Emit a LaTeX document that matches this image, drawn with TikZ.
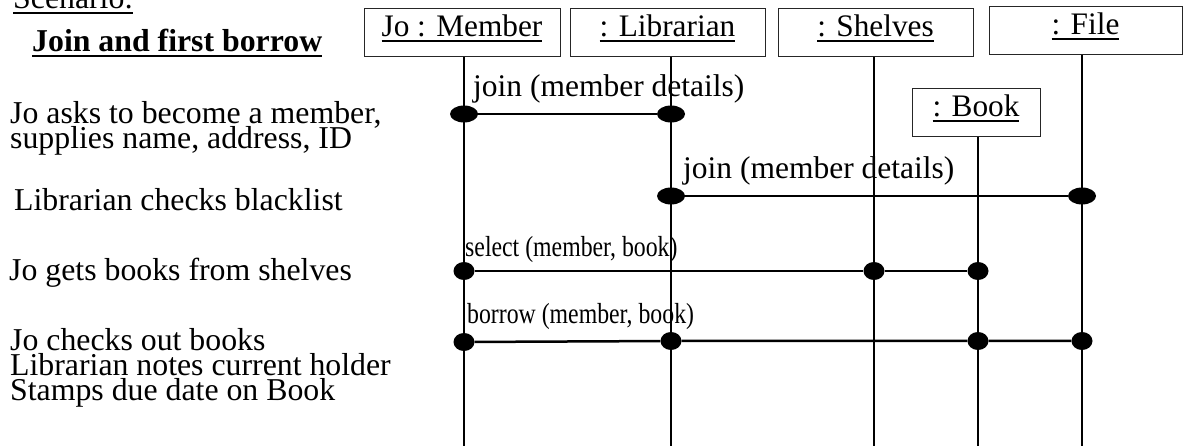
\documentclass[tikz,border=0pt]{standalone}
\usepackage{fontspec}
\setmainfont{Liberation Serif}
\newfontfamily\condfont[FakeStretch=0.82]{Liberation Serif}
\usetikzlibrary{shapes.geometric}
\newsavebox\ulbox
\newcommand\ulx[2][2pt]{\sbox\ulbox{#2}\rlap{\rule[-5.5pt]{\wd\ulbox}{#1}}\usebox\ulbox}
\begin{document}
\begin{tikzpicture}[x=1pt,y=-1pt,
  obj/.style={draw=black!85, line width=1pt, inner sep=0pt, text height=28pt, text depth=20pt, font=\fontsize{31.3}{31}\selectfont},
  life/.style={line width=2pt},
  msg/.style={line width=2.5pt},
  bigdot/.style={ellipse, fill=black, inner sep=0pt, minimum width=28pt, minimum height=17pt},
  smalldot/.style={ellipse, fill=black, inner sep=0pt, minimum width=21pt, minimum height=18pt},
  txt/.style={anchor=base west, inner sep=0pt, font=\fontsize{31.8}{25}\selectfont},
  lbl/.style={anchor=base west, inner sep=0pt, font=\fontsize{31.5}{31.5}\selectfont},
  lbls/.style={anchor=base west, inner sep=0pt, font=\condfont\fontsize{29}{29}\selectfont}]
\useasboundingbox[fill=white] (0,0) rectangle (1184,446);

% left scenario text
\node[txt] (scen) at (13,9) {\ulx{Scenario:}};
\node[txt] (title) at (32,52) {\bfseries\ulx[2.6pt]{Join and first borrow}};
\node[txt] (t1) at (10,124) {Jo asks to become a member,};
\node[txt] (t2) at (10,149) {supplies name, address, ID};
\node[txt] (t3) at (14,211) {Librarian checks blacklist};
\node[txt] (t4) at (9,281) {Jo gets books from shelves};
\node[txt] (t5) at (10,351) {Jo checks out books};
\node[txt] (t6) at (10,376) {Librarian notes current holder};
\node[txt] (t7) at (10,401) {Stamps due date on Book};

% objects
\node[obj, minimum width=196pt] (member) at (462,33) {\ulx{Jo : Member}};
\node[obj, minimum width=195pt] (lib) at (667.5,33) {\ulx{: Librarian}};
\node[obj, minimum width=195pt] (shelves) at (875.5,33) {\ulx{: Shelves}};
\node[obj, minimum width=193pt] (file) at (1085.5,31) {\ulx{: File}};
\node[obj, minimum width=128pt] (book) at (976,113) {\ulx{: Book}};

% lifelines
\coordinate (mTop) at (464,57);  \coordinate (mBot) at (464,446);
\coordinate (lTop) at (671,57);  \coordinate (lBot) at (671,446);
\coordinate (sTop) at (874,57);  \coordinate (sBot) at (874,446);
\coordinate (fTop) at (1082,55); \coordinate (fBot) at (1082,446);
\coordinate (bTop) at (978,137); \coordinate (bBot) at (978,446);
\draw[life] (mTop) -- (mBot);
\draw[life] (lTop) -- (lBot);
\draw[life] (sTop) -- (sBot);
\draw[life] (fTop) -- (fBot);
\draw[life] (bTop) -- (bBot);

% join 1
\node[bigdot] (j1a) at (464,114) {};
\node[bigdot] (j1b) at (671,114) {};
\draw[msg] (j1a) -- (j1b);
\node[lbl] (lj1) at (473,97) {join (member details)};

% join 2
\node[bigdot] (j2a) at (671,196) {};
\node[bigdot] (j2b) at (1082,196) {};
\draw[msg] (j2a) -- (j2b);
\node[lbl] (lj2) at (683,179) {join (member details)};

% select
\node[smalldot] (s1) at (464,271) {};
\node[smalldot] (s2) at (874,271) {};
\node[smalldot] (s3) at (978,271) {};
\draw[msg] (s1) -- (s2) -- (s3);
\node[lbls] (ls) at (465,257) {select (member, book)};

% borrow
\node[smalldot] (b1) at (464,342) {};
\node[smalldot] (b2) at (671,341) {};
\node[smalldot] (b3) at (978,341) {};
\node[smalldot] (b4) at (1082,341) {};
\draw[msg] (b1) -- (b2) -- (b3) -- (b4);
\node[lbls] (lb) at (467,324) {borrow (member, book)};
\end{tikzpicture}
\end{document}
